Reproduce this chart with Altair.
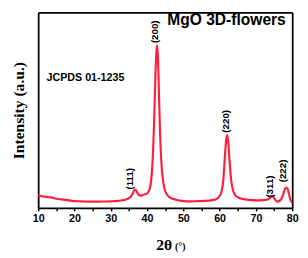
import altair as alt
import pandas as pd

# XRD pattern
two_theta = [10, 10.5, 11, 12, 13, 14, 15, 16, 17, 18, 19, 20, 22, 24, 26, 28, 30, 31, 32, 33, 34, 35,
             35.6, 36.1, 36.6, 37.0, 37.4, 37.9, 38.4, 38.9, 39.4, 39.9, 40.4, 40.9, 41.3, 41.7, 42.0,
             42.3, 42.6, 42.8, 43.0, 43.3, 43.6, 44.0, 44.4, 44.8, 45.3, 46, 47, 48, 49, 50, 52, 54,
             56, 58, 59, 59.6, 60.1, 60.6, 61.0, 61.4, 61.8, 62.1, 62.4, 62.8, 63.2, 63.7, 64.3, 65,
             66, 67, 68, 70, 72, 73, 73.6, 74.1, 74.5, 74.9, 75.4, 76, 76.6, 77.1, 77.6, 78.0, 78.4,
             78.8, 79.2, 79.6, 80]
intensity = [13, 12.5, 12, 11.5, 11, 10.5, 9.5, 9, 8.5, 8, 7.5, 7, 6.8, 6.5, 6.5, 6.6, 6.8, 7, 7.2, 7.8, 8.5, 10,
             12, 15, 19, 18, 15, 13, 12.5, 13.5, 14, 14.5, 17, 22, 35, 62, 95,
             135, 162, 167, 155, 115, 75, 44, 28, 20, 15, 11.5, 9.5, 8.5, 7.5, 7, 6.8, 7,
             7.2, 8, 9, 10.5, 13, 18, 28, 50, 70, 75, 66, 45, 28, 18, 13, 11,
             9.5, 8.8, 8.3, 7.8, 8, 8.5, 9.5, 11.5, 12.5, 11, 8, 6.5, 7.5, 10, 15, 19.5, 21,
             19, 13, 7.5, 5.5]

peak_labels = ["(111)", "(200)", "(220)", "(311)", "(222)"]
peak_label_x = [35.3, 42.2, 61.8, 73.8, 77.4]
peak_label_y = [30, 181, 89, 22, 38]

notes = ["MgO 3D-flowers", "JCPDS 01-1235"]
note_x = [61.9, 12.3]
note_y = [193, 133]

x_ticks = [10, 15, 20, 25, 30, 35, 40, 45, 50, 55, 60, 65, 70, 75, 80]

df = pd.DataFrame({"t": two_theta, "i": intensity})
df_peaks = pd.DataFrame({"t": peak_label_x, "i": peak_label_y, "lab": peak_labels})
df_title = pd.DataFrame({"t": [note_x[0]], "i": [note_y[0]], "lab": [notes[0]]})
df_note = pd.DataFrame({"t": [note_x[1]], "i": [note_y[1]], "lab": [notes[1]]})

xs = alt.Scale(domain=[10, 80], nice=False)
ys = alt.Scale(domain=[0, 201], nice=False)

frame_axis = dict(labels=False, ticks=False, grid=False, title=None, domain=True,
                  domainColor="black", domainWidth=1.8)

line = alt.Chart(df).mark_line(color="#ff1e3c", strokeWidth=2.2, interpolate="monotone").encode(
    x=alt.X("t:Q", scale=xs,
            axis=alt.Axis(title="2θ", values=x_ticks, labelExpr="datum.value % 10 == 0 ? datum.label : ''",
                          labelOverlap=False,
                          domain=True, domainColor="black", domainWidth=1.8,
                          ticks=True, tickSize=3, tickColor="black", tickWidth=1.5,
                          labelFont="Liberation Sans", labelFontSize=11, labelFontWeight="bold",
                          labelColor="black", labelPadding=2, labelFlush=False, grid=False,
                          titleFont="Liberation Serif", titleFontSize=16, titleFontWeight="bold",
                          titleColor="black", titlePadding=14, titleX=129)),
    y=alt.Y("i:Q", scale=ys,
            axis=alt.Axis(title="Intensity (a.u.)", labels=False, ticks=False, grid=False,
                          domain=True, domainColor="black", domainWidth=1.8,
                          titleFont="Liberation Serif", titleFontSize=16, titleFontWeight="bold",
                          titleColor="black", titlePadding=12)),
)

peaks = alt.Chart(df_peaks).mark_text(angle=270, font="Liberation Sans", fontSize=10, fontWeight="bold",
                                      color="black", align="center", baseline="middle").encode(
    x=alt.X("t:Q", scale=xs, axis=alt.Axis(orient="top", **frame_axis)),
    y=alt.Y("i:Q", scale=ys, axis=alt.Axis(orient="right", **frame_axis)),
    text="lab:N")

title_txt = alt.Chart(df_title).mark_text(font="Liberation Sans", fontSize=16, fontWeight="bold",
                                          color="black", align="center", baseline="middle").encode(
    x=alt.X("t:Q", scale=xs, axis=None), y=alt.Y("i:Q", scale=ys, axis=None), text="lab:N")

note_txt = alt.Chart(df_note).mark_text(font="Liberation Sans", fontSize=11, fontWeight="bold",
                                        color="black", align="left", baseline="middle").encode(
    x=alt.X("t:Q", scale=xs, axis=None), y=alt.Y("i:Q", scale=ys, axis=None), text="lab:N")

deg_txt = alt.Chart(pd.DataFrame({"lab": ["(°)"]})).mark_text(
    font="Liberation Serif", fontSize=10, fontWeight="bold", color="black",
    align="center", baseline="middle").encode(
    x=alt.value(146), y=alt.value(241), text="lab:N")

chart = alt.layer(line, peaks, title_txt, note_txt, deg_txt).resolve_axis(
    x="independent", y="independent"
).properties(
    width=261, height=201,
    autosize=alt.AutoSizeParams(type="none"),
    padding={"left": 31, "top": 1, "right": 8, "bottom": 48},
).configure(background="white").configure_view(stroke=None)

chart.save("out.html", embed_options={"renderer": "svg", "actions": False})
